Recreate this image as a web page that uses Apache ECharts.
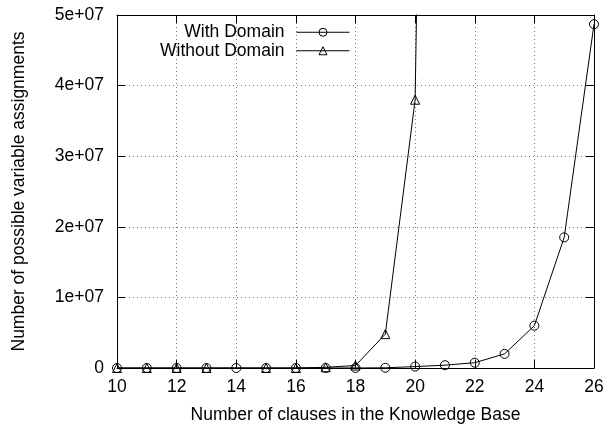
<!DOCTYPE html>
<html>
<head>
<meta charset="utf-8">
<script src="https://cdn.jsdelivr.net/npm/echarts@6/dist/echarts.min.js"></script>
<style>
html, body { margin: 0; padding: 0; background: #fff; }
#chart { width: 608px; height: 431px; }
</style>
</head>
<body>
<div id="chart"></div>
<script>
// 数据
var withDomainX = [10, 11, 12, 13, 14, 15, 16, 17, 18, 19, 20, 21, 22, 23, 24, 25, 26];
var withDomain = [0, 0, 0, 0, 0, 0, 0, 0, 5000, 30000, 200000, 400000, 750000, 2000000, 6000000, 18500000, 48700000];
var withoutDomainX = [10, 11, 12, 13, 15, 16, 17, 18, 19, 20, 21];
var withoutDomain = [0, 0, 0, 0, 0, 0, 100000, 350000, 4800000, 38000000, 300000000];
var xTicks = [10, 12, 14, 16, 18, 20, 22, 24, 26];
var yTicks = [0, 10000000, 20000000, 30000000, 40000000, 50000000];

var font = 'Liberation Sans';
var fs = 17.5;

function pairs(xs, ys) {
    var out = [];
    for (var i = 0; i < ys.length; i++) out.push([xs[i], ys[i]]);
    return out;
}

function yLabel(v) {
    if (v === 0) return '0';
    return (v / 1e7) + 'e+07';
}

var myChart = echarts.init(document.getElementById('chart'));

var option = {
    animation: false,
    backgroundColor: '#fff',
    grid: {
        left: 117,
        right: 14,
        top: 15,
        bottom: 63
    },
    legend: {
        right: 258,
        top: 23,
        padding: 0,
        orient: 'vertical',
        align: 'right',
        itemWidth: 53,
        itemHeight: 10,
        itemGap: 0,
        lineStyle: { width: 1, color: '#000' },
        itemStyle: { color: 'transparent', borderColor: '#000', borderWidth: 1 },
        textStyle: { fontFamily: font, fontSize: fs, color: '#000', lineHeight: 18.5, padding: [0, 7, 0, 0] },
        data: ['With Domain', 'Without Domain']
    },
    xAxis: [
        {
            type: 'value',
            min: xTicks[0],
            max: xTicks[xTicks.length - 1],
            interval: 2,
            name: 'Number of clauses in the Knowledge Base',
            nameLocation: 'middle',
            nameGap: 38,
            nameTextStyle: { fontFamily: font, fontSize: fs, color: '#000' },
            axisLine: { onZero: false, lineStyle: { color: '#000', width: 1 } },
            axisTick: { inside: true, length: 8, lineStyle: { color: '#000' } },
            axisLabel: { fontFamily: font, fontSize: fs, color: '#000', margin: 10 },
            splitLine: { show: true, lineStyle: { color: '#777', type: [1, 3], width: 1 } }
        },
        {
            type: 'value',
            position: 'top',
            min: xTicks[0],
            max: xTicks[xTicks.length - 1],
            interval: 2,
            axisLine: { onZero: false, lineStyle: { color: '#000', width: 1 } },
            axisTick: { inside: true, length: 8, lineStyle: { color: '#000' } },
            axisLabel: { show: false },
            splitLine: { show: false }
        }
    ],
    yAxis: [
        {
            type: 'value',
            min: yTicks[0],
            max: yTicks[yTicks.length - 1],
            interval: 10000000,
            name: 'Number of possible variable assignments',
            nameLocation: 'middle',
            nameGap: 89,
            nameTextStyle: { fontFamily: font, fontSize: fs, color: '#000' },
            axisLine: { show: true, onZero: false, lineStyle: { color: '#000', width: 1 } },
            axisTick: { show: true, inside: true, length: 8, lineStyle: { color: '#000' } },
            axisLabel: { fontFamily: font, fontSize: fs, color: '#000', margin: 13, formatter: yLabel },
            splitLine: { show: true, lineStyle: { color: '#777', type: [1, 3], width: 1 } }
        },
        {
            type: 'value',
            position: 'right',
            min: yTicks[0],
            max: yTicks[yTicks.length - 1],
            interval: 10000000,
            axisLine: { show: true, onZero: false, lineStyle: { color: '#000', width: 1 } },
            axisTick: { show: true, inside: true, length: 8, lineStyle: { color: '#000' } },
            axisLabel: { show: false },
            splitLine: { show: false }
        }
    ],
    series: [
        {
            name: 'With Domain',
            type: 'line',
            data: pairs(withDomainX, withDomain),
            symbol: 'circle',
            symbolSize: 9,
            showAllSymbol: true,
            clip: true,
            color: '#000',
            lineStyle: { color: '#000', width: 1 },
            itemStyle: { color: 'transparent', borderColor: '#000', borderWidth: 1 },
            z: 3
        },
        {
            name: 'Without Domain',
            type: 'line',
            data: pairs(withoutDomainX, withoutDomain),
            symbol: 'triangle',
            symbolSize: 9,
            showAllSymbol: true,
            clip: true,
            color: '#000',
            lineStyle: { color: '#000', width: 1 },
            itemStyle: { color: 'transparent', borderColor: '#000', borderWidth: 1 },
            z: 2
        }
    ]
};
myChart.setOption(option);
window.addEventListener('resize', function () {
    myChart.resize();
});
</script>
</body>
</html>
